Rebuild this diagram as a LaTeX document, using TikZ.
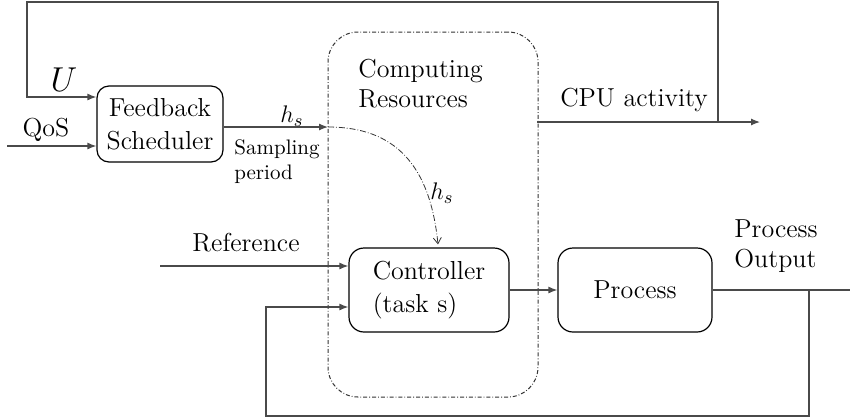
\documentclass[tikz,border=0pt]{standalone}
\usepackage{amsmath}
\usepackage{tikz}
\usetikzlibrary{arrows.meta,positioning,calc}
\definecolor{cLine}{HTML}{4A4A4A}
\definecolor{cDash}{HTML}{333333}
\tikzset{
  blk/.style={rounded corners=6pt, draw=black, line width=0.6pt, align=center,
              font=\fontsize{13}{16.5}\selectfont, inner sep=2pt},
  flow/.style={-{Latex[length=4.5pt,width=3.5pt]}, line width=0.6pt, draw=cLine},
  wire/.style={line width=0.6pt, draw=cLine},
  resbox/.style={draw=cDash, rounded corners=15pt, line width=0.5pt,
                 dash pattern=on 2pt off 1pt on 0.4pt off 1pt},
  lbl/.style={font=\fontsize{13}{15}\selectfont, inner sep=0pt, align=left},
  sml/.style={font=\fontsize{10.5}{12.5}\selectfont, inner sep=0pt, align=left},
}
\begin{document}
\begin{tikzpicture}[x=0.5pt, y=-0.5pt]
  \useasboundingbox (0,0) rectangle (850,419);
  \node[resbox, minimum width=105pt, minimum height=182.5pt] (cres) at (433,214.5) {};
  \node[blk, minimum width=63pt, minimum height=38pt] (fb) at (160,124) {Feedback\\Scheduler};
  \node[blk, rounded corners=7.5pt, minimum width=80pt, minimum height=42pt, align=left] (ctrl) at (429,290) {Controller\\(task s)};
  \node[blk, rounded corners=7.5pt, minimum width=77pt, minimum height=42pt] (proc) at (635,290) {Process};

  \coordinate (cpuout) at (537,122);
  \coordinate (tap) at (718,122);
  \coordinate (cpuend) at (760,122);
  \coordinate (tl) at (27,2);
  \coordinate (uin) at (27,97);
  \coordinate (qos) at (7,146);
  \coordinate (hsin) at (328,127);
  \coordinate (refin) at (160,266);
  \coordinate (out) at (850,290);
  \coordinate (fbk) at (809,290);
  \coordinate (fbl) at (266,416);
  \coordinate (fin) at (266,307);

  \draw[flow] (cpuout) -- (cpuend);
  \draw[flow] (tap) |- (tl) -- (uin) -- (uin -| fb.west);
  \draw[flow] (qos) -- (qos -| fb.west);
  \draw[flow] (hsin -| fb.east) -- (hsin);
  \draw[flow] (refin) -- (refin -| ctrl.west);
  \draw[flow] (ctrl) -- (proc);
  \draw[wire] (proc) -- (out);
  \draw[flow] (fbk) |- (fbl) -- (fin) -- (fin -| ctrl.west);
  \draw[line width=0.4pt, draw=cDash, dash pattern=on 3pt off 1pt on 0.4pt off 1pt,
        -{Straight Barb[length=3pt,width=4pt]}] (hsin) .. controls (395,127) and (430,165) .. ([xshift=4.5pt,yshift=1.5pt]ctrl.north);

  \node[lbl, font=\fontsize{17}{17}\selectfont] (ulbl) at (64,80) {$U$};
  \node[lbl] (qoslbl) at (46,130) {QoS};
  \node[lbl] (hs1) at (292,116) {$h_s$};
  \node[sml, anchor=west] (samp) at (234,162) {Sampling\\period};
  \node[lbl, anchor=west] (reslbl) at (358,84) {Computing\\Resources};
  \node[lbl] (cpulbl) at (634,100) {CPU activity};
  \node[lbl] (hs2) at (442,193) {$h_s$};
  \node[lbl] (reflbl) at (246,243) {Reference};
  \node[lbl, anchor=west] (outlbl) at (734,246) {Process\\Output};
\end{tikzpicture}
\end{document}
